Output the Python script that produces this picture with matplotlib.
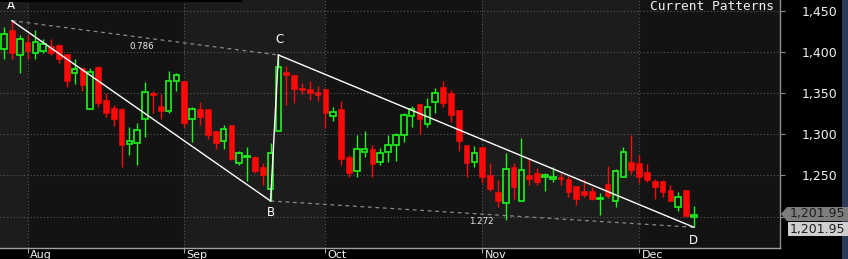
import matplotlib
matplotlib.use('Agg')
import matplotlib.pyplot as plt
from matplotlib.patches import Polygon, Rectangle
from matplotlib.transforms import blended_transform_factory

# ---------------- data ----------------
opens = [1403.4, 1426.9, 1396.8, 1412.3, 1398.5, 1401.7, 1407.4, 1409.0, 1397.7, 1374.9,
         1380.7, 1331.1, 1382.2, 1341.7, 1332.0, 1331.1, 1288.2, 1289.8, 1318.3, 1350.6,
         1334.4, 1328.7, 1364.5, 1364.5, 1318.3, 1330.4, 1330.4, 1303.7, 1292.2, 1311.0,
         1264.7, 1272.0, 1272.7, 1259.9, 1233.1, 1304.4, 1375.8, 1371.8, 1356.3, 1354.7,
         1351.5, 1354.7, 1322.3, 1330.4, 1272.0, 1255.0, 1278.5, 1281.8, 1266.3, 1278.5,
         1286.6, 1298.8, 1322.3, 1336.9, 1312.5, 1339.3, 1357.2, 1349.9, 1329.6, 1286.6,
         1266.3, 1284.2, 1250.1, 1229.8, 1216.1, 1259.9, 1219.2, 1250.1, 1252.9, 1247.7,
         1246.0, 1248.4, 1245.3, 1237.1, 1230.7, 1231.4, 1221.7, 1239.5, 1219.2, 1248.4,
         1266.3, 1265.5, 1254.1, 1243.6, 1243.6, 1232.2, 1211.2, 1232.2, 1199.8]
highs = [1430.9, 1438.2, 1421.2, 1420.4, 1426.9, 1415.6, 1416.3, 1409.5, 1398.2, 1391.2,
         1381.2, 1380.7, 1383.1, 1349.9, 1336.0, 1331.6, 1309.3, 1314.1, 1363.6, 1352.3,
         1349.0, 1376.6, 1374.9, 1365.0, 1333.6, 1339.3, 1331.1, 1304.2, 1311.0, 1311.5,
         1280.0, 1284.9, 1273.2, 1264.7, 1289.1, 1396.5, 1383.1, 1372.3, 1362.8, 1364.5,
         1358.8, 1355.2, 1332.8, 1340.2, 1274.5, 1298.8, 1303.7, 1286.6, 1283.3, 1298.8,
         1302.0, 1325.9, 1334.4, 1337.4, 1344.2, 1356.3, 1364.5, 1353.9, 1330.1, 1287.1,
         1285.8, 1284.7, 1264.7, 1244.4, 1276.9, 1264.7, 1295.5, 1271.2, 1259.0, 1253.3,
         1259.9, 1253.3, 1249.3, 1237.6, 1245.3, 1235.5, 1229.0, 1261.4, 1258.2, 1284.9,
         1298.8, 1274.5, 1263.9, 1246.0, 1244.1, 1238.0, 1229.8, 1232.7, 1212.8]
lows = [1392.0, 1392.0, 1374.2, 1391.2, 1392.0, 1399.3, 1396.8, 1386.4, 1357.2, 1361.2,
        1353.0, 1330.6, 1333.6, 1321.4, 1310.1, 1259.9, 1275.2, 1263.0, 1296.4, 1326.3,
        1319.0, 1326.3, 1353.0, 1308.5, 1290.6, 1311.7, 1293.9, 1282.5, 1282.5, 1269.1,
        1263.0, 1243.6, 1252.6, 1238.7, 1218.9, 1303.9, 1336.0, 1338.4, 1349.0, 1341.7,
        1340.9, 1307.7, 1315.8, 1262.3, 1248.4, 1247.7, 1272.0, 1247.7, 1262.3, 1266.3,
        1267.9, 1291.2, 1308.5, 1300.4, 1308.5, 1325.6, 1332.8, 1315.0, 1280.0, 1248.4,
        1260.6, 1240.4, 1231.4, 1211.9, 1195.8, 1221.7, 1218.9, 1238.0, 1238.0, 1231.4,
        1242.0, 1238.0, 1224.1, 1214.4, 1223.4, 1220.1, 1202.2, 1222.5, 1211.9, 1247.9,
        1251.7, 1240.4, 1242.0, 1221.7, 1224.1, 1218.9, 1207.1, 1200.4, 1186.9]
closes = [1422.0, 1399.3, 1415.6, 1401.7, 1412.3, 1409.9, 1399.3, 1392.0, 1365.2, 1379.1,
          1360.3, 1375.8, 1338.4, 1326.3, 1319.0, 1286.6, 1291.5, 1305.2, 1351.5, 1347.4,
          1328.7, 1364.5, 1371.8, 1314.1, 1330.4, 1321.4, 1298.8, 1289.1, 1306.1, 1269.6,
          1276.9, 1273.6, 1255.7, 1250.9, 1276.9, 1381.5, 1372.5, 1355.5, 1353.9, 1350.6,
          1347.4, 1325.6, 1327.1, 1269.6, 1253.3, 1281.8, 1281.8, 1263.9, 1276.9, 1286.6,
          1298.8, 1323.1, 1330.4, 1319.0, 1332.8, 1350.6, 1337.7, 1323.9, 1291.5, 1265.5,
          1276.9, 1248.4, 1233.8, 1218.5, 1257.4, 1236.3, 1256.6, 1246.0, 1242.0, 1250.1,
          1247.7, 1246.0, 1229.8, 1221.7, 1226.5, 1220.9, 1222.5, 1225.0, 1255.0, 1278.5,
          1256.6, 1248.4, 1244.4, 1236.3, 1229.8, 1219.2, 1223.4, 1200.6, 1201.95]

month_labels = ["Aug", "Sep", "Oct", "Nov", "Dec"]
month_start_idx = [3, 23, 41, 61, 81]

pattern_names = ["A", "B", "C", "D"]
pattern_idx = [1, 34, 35, 88]
pattern_price = [1438.2, 1218.9, 1396.5, 1186.9]
ratio_labels = ["0.786", "1.272"]

y_ticks = [1200, 1250, 1300, 1350, 1400, 1450]
last_price_label = "1,201.95"
title_text = "Current Patterns"

# ---------------- figure ----------------
W, H = 848, 259
fig = plt.figure(figsize=(W / 100, H / 100), dpi=100, facecolor='black')

ax_left, ax_right, ax_top, ax_bottom = 0, 780, 0, 248
ax = fig.add_axes([ax_left / W, 1 - ax_bottom / H, (ax_right - ax_left) / W, (ax_bottom - ax_top) / H])

light_bg = '#1c1c1c'
dark_bg = '#131313'
ax.set_facecolor(dark_bg)

x0, x1 = -0.51, 98.98
ax.set_xlim(x0, x1)
ax.set_ylim(1161.7, 1463.4)

# alternating month bands
bounds = [x0] + month_start_idx + [x1]
for k in range(len(bounds) - 1):
    col = light_bg if k % 2 == 0 else dark_bg
    ax.axvspan(bounds[k], bounds[k + 1], color=col, lw=0, zorder=0)

# grid
for yv in y_ticks:
    ax.axhline(yv, color='#5a5a5a', lw=0.8, ls=(0, (1, 2)), zorder=1)
for xv in month_start_idx:
    ax.axvline(xv, color='#5a5a5a', lw=0.8, ls=(0, (1, 2)), zorder=1)

# candles
green = '#1cf51c'
red = '#ff0808'
bw = 0.72
lw = 1.0
for i, (o, h, l, c) in enumerate(zip(opens, highs, lows, closes)):
    if c >= o:
        top, bot = c, o
        ax.vlines(i, top, h, color=green, lw=lw, zorder=3)
        ax.vlines(i, l, bot, color=green, lw=lw, zorder=3)
        ax.add_patch(Rectangle((i - bw / 2, bot), bw, max(top - bot, 0.4),
                               facecolor='none', edgecolor=green, lw=1.2, zorder=3))
    else:
        ax.vlines(i, l, h, color=red, lw=lw, zorder=3)
        ax.add_patch(Rectangle((i - bw / 2, c), bw, o - c,
                               facecolor=red, edgecolor=red, lw=0.4, zorder=3))

# pattern lines
pA, pB, pC, pD = list(zip(pattern_idx, pattern_price))
for p, q in [(pA, pB), (pB, pC), (pC, pD)]:
    ax.plot([p[0], q[0]], [p[1], q[1]], color='white', lw=1.0, zorder=4)
for p, q in [(pA, pC), (pB, pD)]:
    ax.plot([p[0], q[0]], [p[1], q[1]], color='#8a8a8a', lw=0.9, ls=(0, (3, 3)), zorder=2)

# pattern letters
offs = [(-0.1, 15), (0, -12), (0.1, 15), (0, -13)]
for name, (xi, yi), (dx, dy) in zip(pattern_names, [pA, pB, pC, pD], offs):
    ax.annotate(name, (xi + dx, yi), xytext=(0, dy * 0.72), textcoords='offset points',
                ha='center', va='center', color='white', fontsize=8.5, zorder=6)

# ratio labels
ax.text(17.6, 1406.5, ratio_labels[0], color='#e8e8e8', fontsize=6.2, ha='center', va='center', zorder=6)
ax.text(60.9, 1194.0, ratio_labels[1], color='#e8e8e8', fontsize=6.2, ha='center', va='center', zorder=6)

# axes styling
for s in ['top', 'left']:
    ax.spines[s].set_visible(False)
ax.spines['right'].set_color('#8c8c8c')
ax.spines['bottom'].set_color('#a0a0a0')
ax.spines['right'].set_linewidth(1.0)
ax.spines['bottom'].set_linewidth(1.0)

ax.yaxis.tick_right()
ax.set_yticks(y_ticks)
ax.set_yticklabels(['' if v == 1200 else f"{v:,}" for v in y_ticks])
ax.tick_params(axis='y', colors='#8c8c8c', labelcolor='#f0f0f0', length=3.6, width=0.8,
               labelsize=9, pad=37.5)
for lab in ax.get_yticklabels():
    lab.set_horizontalalignment('right')

ax.set_xticks(month_start_idx)
ax.set_xticklabels([])
ax.tick_params(axis='x', colors='#a0a0a0', length=3.6, width=0.8)
trans = blended_transform_factory(ax.transData, fig.transFigure)
for xi, lab in zip(month_start_idx, month_labels):
    ax.text(xi + 0.3, 1 - 259.5 / H, lab, transform=trans, ha='left', va='bottom',
            color='#f0f0f0', fontsize=8, clip_on=False)

# title
fig.text(774 / W, 1 - 9.5 / H, title_text, ha='right', va='baseline', color='#f0f0f0',
         fontsize=9.3, family='DejaVu Sans Mono', zorder=8)

# top black strip
fig.patches.append(Rectangle((0, 1 - 2 / H), 242 / W, 2 / H, transform=fig.transFigure,
                             facecolor='black', edgecolor='none', zorder=5))
# right blue strip
fig.patches.append(Rectangle((842 / W, 0), 6 / W, 1, transform=fig.transFigure,
                             facecolor='#2b3a58', edgecolor='none', zorder=4))

# last price boxes
def fy(y):
    return 1 - y / H
poly = Polygon([(781 / W, fy(214)), (787 / W, fy(207)), (848 / W, fy(207)),
                (848 / W, fy(221)), (787 / W, fy(221))], closed=True,
               transform=fig.transFigure, facecolor='#7d7d7d', edgecolor='none', zorder=6)
fig.patches.append(poly)
fig.text(845 / W, fy(214), last_price_label, ha='right', va='center', color='#1e1e1e',
         fontsize=9, zorder=7)
fig.patches.append(Rectangle((788 / W, fy(236)), 60 / W, 14 / H, transform=fig.transFigure,
                             facecolor='#cfcfcf', edgecolor='none', zorder=6))
fig.text(845 / W, fy(229), last_price_label, ha='right', va='center', color='#1e1e1e',
         fontsize=9, zorder=7)

fig.savefig('out.png', dpi=100, facecolor='black')
